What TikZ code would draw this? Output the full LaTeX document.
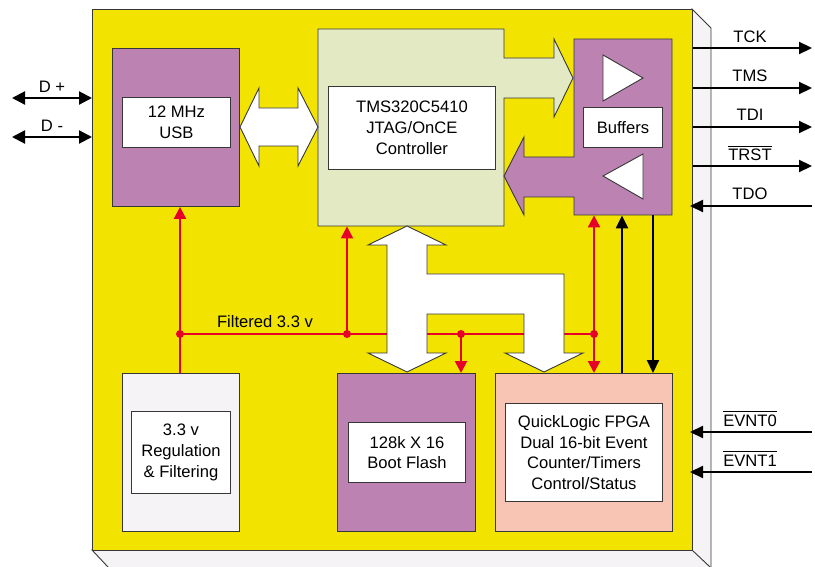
\documentclass[tikz,border=0pt]{standalone}
\usepackage{fontspec}
\setmainfont{Liberation Sans}
\usetikzlibrary{arrows.meta}
\definecolor{board}{RGB}{242,228,0}
\definecolor{mauve}{RGB}{188,130,178}
\definecolor{jtagg}{RGB}{226,233,195}
\definecolor{fpgap}{RGB}{248,197,181}
\definecolor{pale}{RGB}{245,243,245}
\definecolor{pwrred}{RGB}{230,0,40}
\definecolor{edgec}{RGB}{55,55,55}
\newcommand\ovlbar[1]{\leavevmode\vbox{\hrule height 1pt\kern 2.2pt\hbox{#1}}}
\begin{document}
\begin{tikzpicture}[x=1pt,y=-1pt,
  font=\fontsize{16.6}{20.7}\selectfont,
  outl/.style={draw=edgec, line width=0.9pt, line join=miter},
  block/.style={outl, inner sep=0pt, anchor=north west},
  ghost/.style={inner sep=0pt, anchor=north west},
  txtbox/.style={outl, fill=white, align=center, inner sep=0pt, anchor=north west},
  sig/.style={line width=2.2pt, black},
  sigtip/.style={-{Triangle[length=13pt,width=12pt]}},
  sigboth/.style={{Triangle[length=13pt,width=13pt]}-{Triangle[length=13pt,width=13pt]}},
  pline/.style={line width=2pt, pwrred},
  ptip/.style={-{Triangle[length=12pt,width=12pt]}},
  pboth/.style={{Triangle[length=12pt,width=12pt]}-{Triangle[length=12pt,width=12pt]}},
  sigtext/.style={inner sep=0pt}
]
\useasboundingbox (0,0) rectangle (815,567);
\clip (0,0) rectangle (815,567);
\fill[white] (0,0) rectangle (815,567);

% board with 3D edges
\draw[outl, fill=pale] (692,9) -- (711,28) -- (711,600) -- (692,600) -- cycle;
\draw[outl, fill=pale] (92,550) -- (692,550) -- (745,600) -- (139,600) -- cycle;
\node[block, fill=board, minimum width=600pt, minimum height=541pt] (board) at (92,9) {};

% USB block
\node[block, fill=mauve, minimum width=127pt, minimum height=158pt] (usb) at (112,48) {};
\node[txtbox, minimum width=108pt, minimum height=50pt] (usbt) at (122,97) {12 MHz\\USB};

% JTAG controller with arrow to buffers
\draw[outl, fill=jtagg] (318,29) -- (504,29) -- (504,58) -- (554,58) -- (554,39) -- (573,78)
  -- (554,117) -- (554,98) -- (504,98) -- (504,226) -- (318,226) -- cycle;
\node[ghost, minimum width=186pt, minimum height=197pt] (jtag) at (318,29) {};
\node[txtbox, minimum width=167pt, minimum height=83pt] (jtagt) at (328,86)
  {TMS320C5410\\JTAG/OnCE\\Controller};

% Buffers with arrow back to JTAG
\draw[outl, fill=mauve] (574,39) -- (672,39) -- (672,215) -- (574,215) -- (574,197) -- (524,197)
  -- (524,215) -- (504,176) -- (524,137) -- (524,157) -- (574,157) -- cycle;
\node[ghost, minimum width=98pt, minimum height=176pt] (buf) at (574,39) {};
\draw[outl, fill=white] (603,55) -- (643,78) -- (603,101) -- cycle;
\draw[outl, fill=white] (643,154) -- (603,176) -- (643,199) -- cycle;
\node[txtbox, minimum width=79pt, minimum height=40pt] (buft) at (583,107) {Buffers};

% USB <-> JTAG wide arrow
\draw[outl, fill=white] (240,127) -- (259,88) -- (259,108) -- (298,108) -- (298,88) -- (318,127)
  -- (298,166) -- (298,146) -- (259,146) -- (259,166) -- cycle;

% bottom blocks
\node[block, fill=pale, minimum width=117pt, minimum height=158pt] (pwr) at (122,373) {};
\node[txtbox, minimum width=99pt, minimum height=82pt] (pwrt) at (131,411)
  {3.3 v\\Regulation\\\& Filtering};
\node[block, fill=mauve, minimum width=138pt, minimum height=158pt] (flash) at (337,373) {};
\node[txtbox, minimum width=117pt, minimum height=60pt] (flasht) at (348,422)
  {128k X 16\\Boot Flash};
\node[block, fill=fpgap, minimum width=177pt, minimum height=158pt] (fpga) at (495,373) {};
\node[txtbox, minimum width=157pt, minimum height=98pt] (fpgat) at (505,403)
  {QuickLogic FPGA\\Dual 16-bit Event\\Counter/Timers\\Control/Status};

% power distribution
\coordinate (j1) at (180,334);
\coordinate (j2) at (347,334);
\coordinate (j3) at (461,334);
\coordinate (j4) at (594,334);
\draw[pline] (j1) -- (j4);
\draw[pline, ptip] (j1 |- pwr.north) -- (j1 |- usb.south);
\draw[pline, ptip] (j2) -- (j2 |- jtag.south);
\draw[pline, ptip] (j3) -- (j3 |- flash.north);
\draw[pline, pboth] (j4 |- buf.south) -- (j4 |- fpga.north);
\foreach \j in {j1,j2,j3,j4} \fill[pwrred] (\j) circle (4pt);
\node[sigtext] (filt) at (265,322) {Filtered 3.3 v};

% data bus
\draw[outl, fill=white] (407,226) -- (446,245) -- (427,245) -- (427,274) -- (564,274) -- (564,353)
  -- (583,353) -- (544,372) -- (505,353) -- (524,353) -- (524,314) -- (427,314) -- (427,353)
  -- (446,353) -- (407,372) -- (368,353) -- (387,353) -- (387,245) -- (368,245) -- cycle;

% buffer <-> fpga
\coordinate (u1) at (622,0);
\coordinate (u2) at (653,0);
\draw[sig, sigtip] (u1 |- fpga.north) -- (u1 |- buf.south);
\draw[sig, sigtip] (u2 |- buf.south) -- (u2 |- fpga.north);

% USB lines
\coordinate (dpo) at (12,98);
\coordinate (dmo) at (12,137);
\draw[sig, sigboth] (dpo) -- (dpo -| board.west);
\draw[sig, sigboth] (dmo) -- (dmo -| board.west);
\node[sigtext] (dpl) at (52,87) {D +};
\node[sigtext] (dml) at (52,126) {D -};

% JTAG signals
\foreach \n/\y in {tck/48,tms/88,tdi/127,trst/166}{
  \coordinate (\n o) at (812,\y);
  \draw[sig, sigtip] (\n o -| board.east) -- (\n o);
}
\coordinate (tdoo) at (812,206);
\draw[sig, sigtip] (tdoo) -- (690,206);
\node[sigtext] (tckl) at (750,37) {TCK};
\node[sigtext] (tmsl) at (750,76) {TMS};
\node[sigtext] (tdil) at (750,115) {TDI};
\node[sigtext, anchor=base] (trstl) at (750,161) {\ovlbar{TRST}};
\node[sigtext] (tdol) at (750,194) {TDO};

% event inputs
\coordinate (ev0) at (812,432);
\coordinate (ev1) at (812,472);
\draw[sig, sigtip] (ev0) -- (690,432);
\draw[sig, sigtip] (ev1) -- (690,472);
\node[sigtext, anchor=base] (ev0l) at (750,426) {\ovlbar{EVNT0}};
\node[sigtext, anchor=base] (ev1l) at (750,466) {\ovlbar{EVNT1}};
\end{tikzpicture}
\end{document}
